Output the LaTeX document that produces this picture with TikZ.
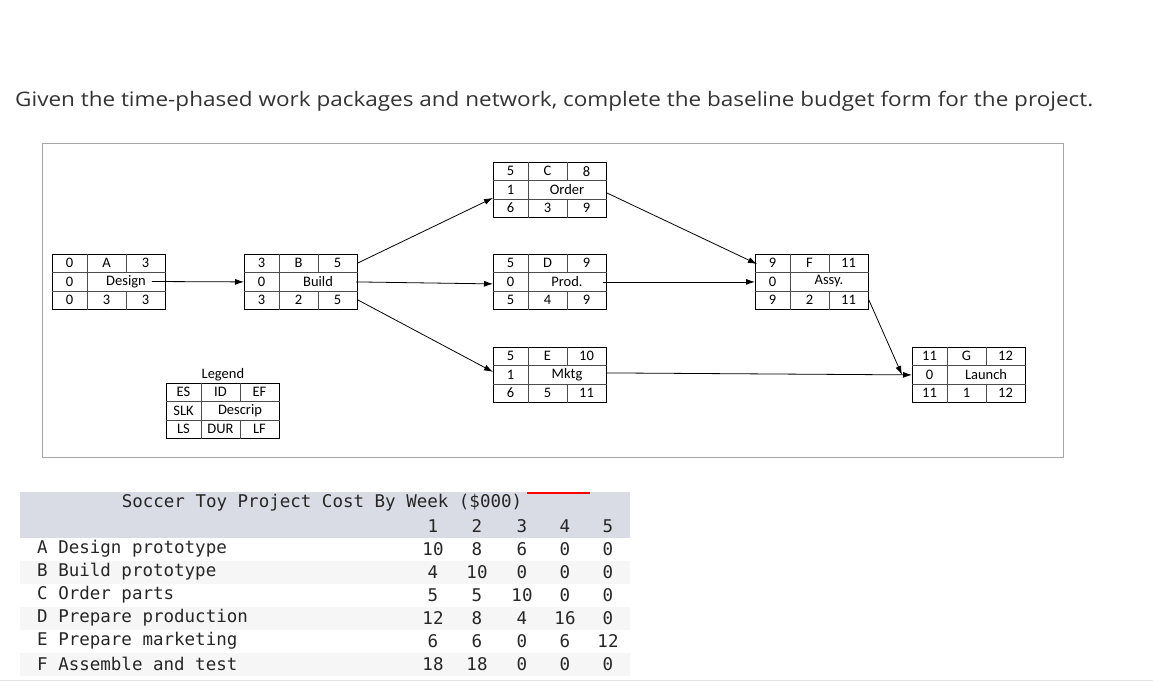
\documentclass[tikz,border=0pt]{standalone}
\usepackage{fontspec}
\setmainfont{Carlito}
\newfontfamily\titlefont{Open Sans}
\newfontfamily\monofont{DejaVu Sans Mono}
\usetikzlibrary{calc,arrows.meta}
\definecolor{band}{HTML}{D9DCE5}
\definecolor{stripe}{HTML}{F6F6F6}
\tikzset{
  cell/.style={font=\fontsize{14.5}{15}\selectfont, inner sep=0},
  link/.style={-{Latex[length=9pt,width=6pt]}, line width=0.8pt},
  mono/.style={font=\monofont\fontsize{17.5}{18}\selectfont, inner sep=0, text=black!85},
}
\newcommand\abox[9]{%
  \node[draw, line width=0.8pt, minimum width=113pt, minimum height=55pt, anchor=north west, inner sep=0] (#1) at (#1p) {};
  \draw[black!70] ($(#1.north west)+(0,18.3)$) -- ($(#1.north east)+(0,18.3)$);
  \draw[black!70] ($(#1.north west)+(0,36.7)$) -- ($(#1.north east)+(0,36.7)$);
  \draw[black!70] ($(#1.north west)+(35,0)$) -- ($(#1.south west)+(35,0)$);
  \draw[black!70] ($(#1.north west)+(74,0)$) -- ($(#1.north west)+(74,18.3)$);
  \draw[black!70] ($(#1.north west)+(74,36.7)$) -- ($(#1.south west)+(74,0)$);
  \node[cell] (#1-es) at ($(#1.north west)+(17.5,9.2)$) {#2};
  \node[cell] (#1-id) at ($(#1.north west)+(54.5,9.2)$) {#3};
  \node[cell] (#1-ef) at ($(#1.north west)+(93.5,9.2)$) {#4};
  \node[cell] (#1-sl) at ($(#1.north west)+(17.5,27.5)$) {#5};
  \node[cell] (#1-de) at ($(#1.north west)+(74,27.5)$) {#6};
  \node[cell] (#1-ls) at ($(#1.north west)+(17.5,45.8)$) {#7};
  \node[cell] (#1-du) at ($(#1.north west)+(54.5,45.8)$) {#8};
  \node[cell] (#1-lf) at ($(#1.north west)+(93.5,45.8)$) {#9};
}
\begin{document}
\begin{tikzpicture}[x=1pt,y=-1pt]
\useasboundingbox (0,0) rectangle (1153,697);
\node[anchor=west, font=\titlefont\fontsize{20}{22}\selectfont, text=black!80, inner sep=0] (title) at (15,101) {\scalebox{1.125}[1]{Given the time-phased work packages and network, complete the baseline budget form for the project.}};
\node[draw=black!35, line width=0.6pt, minimum width=1021pt, minimum height=314pt, anchor=north west, inner sep=0] (frame) at (42,143) {};
\coordinate (Ap) at (52,254);
\coordinate (Bp) at (244,254);
\coordinate (Cp) at (493,162);
\coordinate (Dp) at (493,254);
\coordinate (Ep) at (493,347);
\coordinate (Fp) at (755,254);
\coordinate (Gp) at (912,347);
\coordinate (Lp) at (166,383);
\abox{A}{0}{A}{3}{0}{Design}{0}{3}{3}
\abox{B}{3}{B}{5}{0}{Build}{3}{2}{5}
\abox{C}{5}{C}{8}{1}{Order}{6}{3}{9}
\abox{D}{5}{D}{9}{0}{Prod.}{5}{4}{9}
\abox{E}{5}{E}{10}{1}{Mktg}{6}{5}{11}
\abox{F}{9}{F}{11}{0}{Assy.}{9}{2}{11}
\abox{G}{11}{G}{12}{0}{Launch}{11}{1}{12}
\abox{L}{ES}{ID}{EF}{SLK}{Descrip}{LS}{DUR}{LF}
\node[cell] (legend) at ($(L.north)+(0,-8)$) {Legend};
\draw[link] (A-de.east) ++(6,0) coordinate (a1) (a1) -- (B.west);
\draw[link] ($(B.north east)+(0,9)$) -- ($(C.west)+(0,8)$);
\draw[link] ($(B.east)+(-2,0)$) -- ($(D.west)+(0,2)$);
\draw[link] ($(B.east)+(0,18)$) -- ($(E.west)+(0,-3)$);
\draw[link] ($(C.east)+(0,3)$) -- ($(F.north west)+(2,10)$);
\draw[link] ($(D.east)+(-4,0)$) -- (F.west);
\draw[link] ($(E.east)+(0,-2)$) -- (G.west);
\draw[link] ($(F.south east)+(0,-10)$) -- ($(G.west)+(-10,0)$);
% table
\fill[band] (20,492) rectangle (630,538);
\foreach \y in {561,607,653} \fill[stripe] (20,\y) rectangle (630,\y+23);
\fill[white] (20,676) rectangle (630,697);
\draw[red, line width=1.2pt] (527,493) -- (590,493);
\draw[black!10] (0,680) -- (1153,680);
\node[mono] (ttl) at (322,503) {Soccer Toy Project Cost By Week (\$000)};
\foreach \n/\x in {1/433,2/477,3/522,4/565,5/608} \node[mono] (h\n) at (\x,526) {\n};
\foreach \lab/\a/\b/\c/\d/\e [count=\i] in {
 A Design prototype/10/8/6/0/0,
 B Build prototype/4/10/0/0/0,
 C Order parts/5/5/10/0/0,
 D Prepare production/12/8/4/16/0,
 E Prepare marketing/6/6/0/6/12,
 F Assemble and test/18/18/0/0/0}{
  \pgfmathsetmacro\yy{526+23*\i}
  \node[mono, anchor=west] (r\i) at (37,\yy) {\lab};
  \node[mono] (r\i a) at (433,\yy) {\a};
  \node[mono] (r\i b) at (477,\yy) {\b};
  \node[mono] (r\i c) at (522,\yy) {\c};
  \node[mono] (r\i d) at (565,\yy) {\d};
  \node[mono] (r\i e) at (608,\yy) {\e};
}
\end{tikzpicture}
\end{document}
